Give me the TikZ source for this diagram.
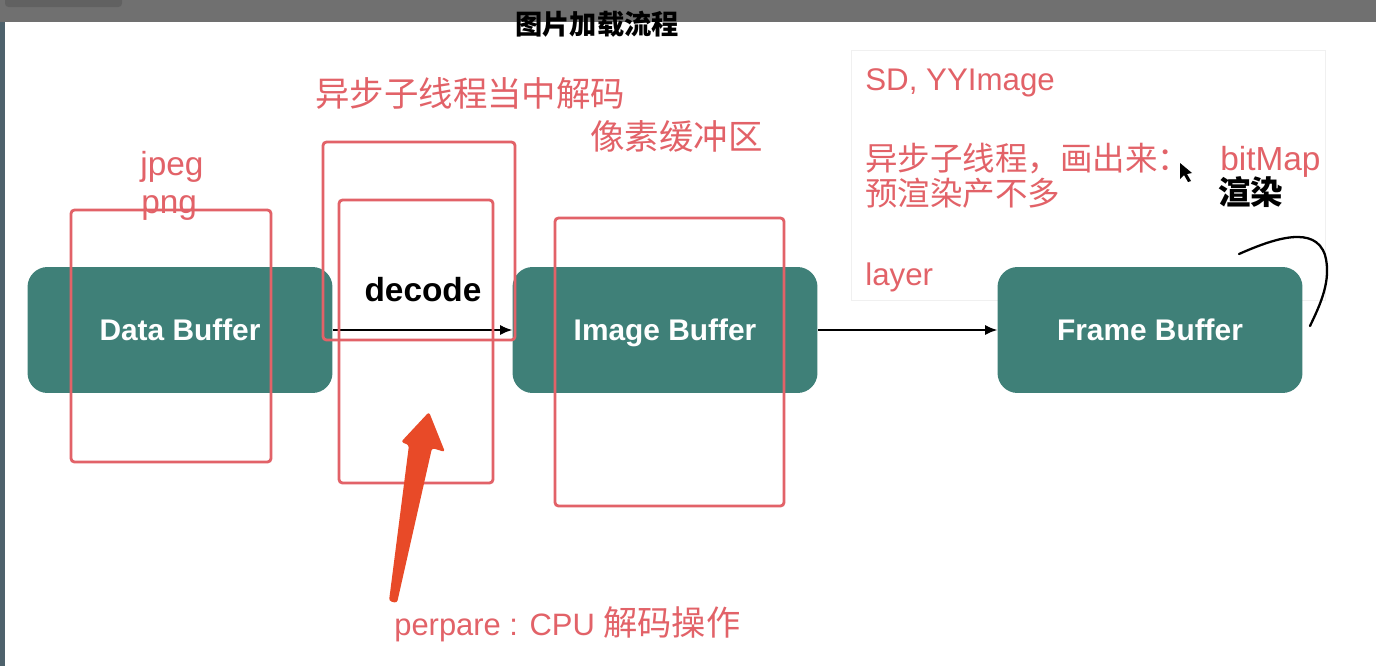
\documentclass[tikz,border=0pt]{standalone}
\usepackage{fontspec}
\setmainfont{Liberation Sans}
\newfontfamily\cjk{Noto Sans CJK SC}
\usepackage{tikz}
\usetikzlibrary{shapes,arrows.meta,positioning}
\definecolor{buffteal}{RGB}{63,128,120}
\definecolor{markred}{RGB}{226,98,104}
\definecolor{pointorange}{RGB}{232,74,40}
\definecolor{framegray}{RGB}{112,112,112}
\definecolor{edgeslate}{RGB}{78,98,108}

\begin{document}
\begin{tikzpicture}[x=0.02cm,y=-0.02cm,
    buffer/.style={rectangle,rounded corners=0.4cm,fill=buffteal,text=white,
      minimum width=6.1cm,minimum height=2.52cm,text height=12.2pt,text depth=0pt,
      font=\fontsize{17}{20}\selectfont\bfseries},
    markbox/.style={draw=markred,line width=1.6pt,rounded corners=2pt},
    note/.style={inner sep=0pt,text=markred,anchor=base west,font=\fontsize{17.8}{22}\selectfont},
    flow/.style={-{Latex[length=2.4mm,width=2mm]},line width=0.8pt}]
        % window frame
        \useasboundingbox (0,0) rectangle (1376,666);
        \fill[white] (0,0) rectangle (1376,666);
        \fill[framegray] (0,0) rectangle (1376,22);
        \fill[black!62,rounded corners=2pt] (5,-5) rectangle (122,7);
        \fill[edgeslate] (0,22) rectangle (5,666);
        \draw[black!6] (851,50) rectangle (1325,300);

        \node[inner sep=0pt,anchor=base,font=\cjk\fontsize{15.5}{18}\selectfont\bfseries] (title) at (597,34) {图片加载流程};

        % buffers
        \node[buffer] (data) at (180,330) {Data Buffer};
        \node[buffer] (image) at (665,330) {Image Buffer};
        \node[buffer] (frame) at (1150,330) {Frame Buffer};

        \draw[flow] (data) -- (image);
        \draw[flow] (image) -- (frame);

        \node[inner sep=0pt,anchor=base,font=\fontsize{19}{22}\selectfont\bfseries] (decode) at (423,301) {decode};

        % red markings
        \draw[markbox] (71,210) rectangle (271,462);
        \draw[markbox] (323,142) rectangle (515,340);
        \draw[markbox] (339,200) rectangle (493,483);
        \draw[markbox] (555,218) rectangle (784,506);

        \node[note,font=\fontsize{19}{22}\selectfont] (jpeg) at (140,175) {jpeg};
        \node[note,font=\fontsize{19}{22}\selectfont] (png) at (141,213) {png};
        \node[note,font=\cjk\fontsize{19.6}{22}\selectfont] (async) at (315,106) {异步子线程当中解码};
        \node[note,font=\cjk\fontsize{19.6}{22}\selectfont] (pixel) at (590,149) {像素缓冲区};
        \node[note,font=\fontsize{17.6}{22}\selectfont] (prepare) at (394,635) {perpare : CPU {\cjk\fontsize{19.5}{22}\selectfont 解码操作}};

        % right notes
        \node[note] (libs) at (865,90) {SD, YYImage};
        \node[note,font=\cjk\fontsize{18.5}{22}\selectfont] (draw) at (865,170) {异步子线程，画出来：};
        \node[note,font=\fontsize{19}{22}\selectfont] (bitmap) at (1220,170) {bitMap};
        \node[note,font=\cjk\fontsize{18.5}{22}\selectfont] (prerender) at (865,205) {预渲染产不多};
        \node[note,text=black,font=\cjk\fontsize{18.5}{22}\selectfont\bfseries] (render) at (1218,204) {渲染};
        \node[note] (layer) at (865,285) {layer};

        % hand drawn marks
        \fill[pointorange,rounded corners=1.5pt] (389,601) -- (409,445) -- (401,442) -- (429,412)
            -- (445,452) -- (432,448) -- (397,603) -- cycle;
        \draw[line width=1.3pt,line cap=round] (1239,254) .. controls (1275,238) and (1315,225) .. (1325,255)
            .. controls (1332,280) and (1320,305) .. (1310,326);
        \fill[black] (1180,163) -- (1180,179) -- (1184,175) -- (1188,182) -- (1191,181) -- (1187,174) -- (1192,173) -- cycle;
    \end{tikzpicture}
\end{document}
